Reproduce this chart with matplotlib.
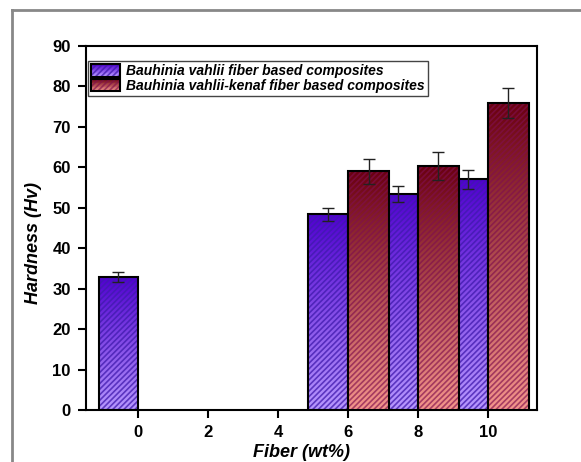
import numpy as np
import matplotlib.pyplot as plt
from matplotlib.colors import LinearSegmentedColormap
from matplotlib.patches import Rectangle
from matplotlib.lines import Line2D
from matplotlib.legend_handler import HandlerBase

plt.rcParams['font.family'] = ['Liberation Sans', 'DejaVu Sans']
plt.rcParams['hatch.linewidth'] = 1.2

# hardness data (Hv) vs fiber loading (wt%)
fiber_bv = [0, 6, 8, 10]
hard_bv = [32.8, 48.4, 53.5, 57.0]
err_bv = [1.2, 1.6, 2.0, 2.4]

fiber_bvk = [6, 8, 10]
hard_bvk = [59.0, 60.3, 75.8]
err_bvk = [3.0, 3.4, 3.7]

xticks = [0, 2, 4, 6, 8, 10]
yticks = list(range(0, 91, 10))
labels = ["Bauhinia vahlii fiber based composites",
          "Bauhinia vahlii-kenaf fiber based composites"]

blue_top, blue_bot, blue_hatch = '#5000d0', '#b898ff', (0.25, 0.1, 0.68, 0.75)
red_top, red_bot, red_hatch = '#6a0010', '#f4968c', (0.5, 0.06, 0.3, 0.65)
HATCH = '//////'


def grad_bars(ax, x, h, width, top, bot, hcol, z):
    cmap = LinearSegmentedColormap.from_list('g', [top, bot])
    grad = np.linspace(0, 1, 256).reshape(-1, 1)
    bars = ax.bar(x, h, width=width, align='edge', facecolor='none',
                  edgecolor='none', zorder=z)
    for b in bars:
        x0, x1 = sorted([b.get_x(), b.get_x() + b.get_width()])
        ax.imshow(grad, cmap=cmap, extent=(x0, x1, 0, b.get_height()),
                  aspect='auto', origin='upper', interpolation='bilinear',
                  zorder=z)
    ax.bar(x, h, width=width, align='edge', facecolor='none', edgecolor=hcol,
           linewidth=0, hatch=HATCH, zorder=z + 0.1)
    ax.bar(x, h, width=width, align='edge', facecolor='none', edgecolor='black',
           linewidth=1.5, zorder=z + 0.2)


class GradHandler(HandlerBase):
    def __init__(self, top, bot, hcol):
        super().__init__()
        self.top, self.bot, self.hcol = top, bot, hcol

    def create_artists(self, legend, orig_handle, xdescent, ydescent,
                       width, height, fontsize, trans):
        cmap = LinearSegmentedColormap.from_list('g', [self.top, self.bot])
        arts = []
        n = 16
        for i in range(n):
            arts.append(Rectangle((-xdescent, -ydescent + height * (n - 1 - i) / n),
                                  width, height / n, facecolor=cmap(i / (n - 1)),
                                  edgecolor='none', transform=trans))
        arts.append(Rectangle((-xdescent, -ydescent), width, height, facecolor='none',
                              edgecolor=self.hcol, linewidth=0, hatch=HATCH,
                              transform=trans))
        arts.append(Rectangle((-xdescent, -ydescent), width, height, facecolor='none',
                              edgecolor='black', linewidth=1.5, transform=trans))
        return arts


fig = plt.figure(figsize=(5.81, 4.62), dpi=100)
ax = fig.add_axes([0.148, 0.1126, 0.776, 0.7878])

w_bv, w_bvk = 1.14, 1.17
grad_bars(ax, fiber_bv, hard_bv, -w_bv, blue_top, blue_bot, blue_hatch, 1)
grad_bars(ax, fiber_bvk, hard_bvk, w_bvk, red_top, red_bot, red_hatch, 4)

ax.errorbar(np.array(fiber_bv) - w_bv / 2, hard_bv, yerr=err_bv, fmt='none',
            ecolor='#222222', elinewidth=1, capsize=4, capthick=1, zorder=8)
ax.errorbar(np.array(fiber_bvk) + w_bvk / 2, hard_bvk, yerr=err_bvk, fmt='none',
            ecolor='#222222', elinewidth=1, capsize=4, capthick=1, zorder=8)

ax.set_xlim(-1.5, 11.4)
ax.set_ylim(0, 90)
ax.set_xticks(xticks)
ax.set_yticks(yticks)
ax.tick_params(direction='out', length=6, width=1.5, labelsize=12, pad=5)
for lab in ax.get_xticklabels() + ax.get_yticklabels():
    lab.set_fontweight('bold')
for s in ax.spines.values():
    s.set_linewidth(1.5)

ax.set_xlabel('Fiber (wt%)', fontsize=13, fontweight='bold', style='italic')
ax.set_ylabel('Hardness (Hv)', fontsize=13, fontweight='bold', style='italic')
ax.yaxis.set_label_coords(-0.098, 0.46)
ax.xaxis.set_label_coords(0.479, -0.093)

h1 = Rectangle((0, 0), 1, 1)
h2 = Rectangle((0, 0), 1, 1)
leg = ax.legend([h1, h2], labels, loc='upper left', bbox_to_anchor=(0.004, 0.96),
                borderaxespad=0, fancybox=False, framealpha=1, edgecolor='#444444',
                handlelength=2.1, handleheight=1.0, labelspacing=0.05,
                handletextpad=0.4, borderpad=0.25,
                prop={'size': 10, 'weight': 'bold', 'style': 'italic'},
                handler_map={h1: GradHandler(blue_top, blue_bot, blue_hatch),
                             h2: GradHandler(red_top, red_bot, red_hatch)})
leg.get_frame().set_linewidth(1.0)
leg.set_zorder(10)

# grey border around the panel
fx, fy = 12 / 581, 1 - 10 / 462
fig.add_artist(Line2D([fx, fx], [0, fy], color='#888888', lw=2))
fig.add_artist(Line2D([fx, 1], [fy, fy], color='#888888', lw=2))

fig.savefig('out.png', dpi=100)
